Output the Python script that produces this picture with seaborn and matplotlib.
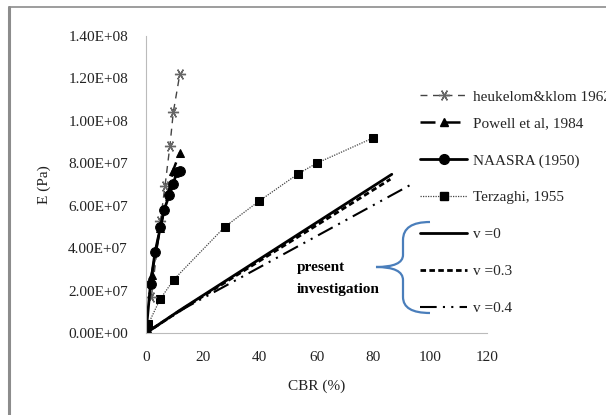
import numpy as np
import pandas as pd
import matplotlib
matplotlib.use("Agg")
import matplotlib.pyplot as plt
from matplotlib.path import Path
from matplotlib.patches import PathPatch
from matplotlib.lines import Line2D
import seaborn as sns

# ---- data ----
heuk_cbr = [1.9, 5.1, 6.7, 8.4, 9.6, 11.9]
heuk_e = [1.7e7, 5.3e7, 6.95e7, 8.8e7, 1.04e8, 1.22e8]

powell_cbr = [2.0, 5.0, 8.0, 9.5, 11.9]
powell_e = [2.75e7, 4.96e7, 6.67e7, 7.65e7, 8.5e7]

naasra_cbr = [0.0, 1.6, 3.2, 5.1, 6.3, 8.2, 9.6, 10.8, 11.9]
naasra_e = [0.0, 2.33e7, 3.82e7, 5.0e7, 5.78e7, 6.5e7, 7.0e7, 7.6e7, 7.65e7]

terz_cbr = [0.0, 0.8, 4.9, 9.8, 27.7, 39.6, 53.5, 60.0, 80.0]
terz_e = [0.0, 4.2e6, 1.58e7, 2.52e7, 5.0e7, 6.2e7, 7.5e7, 8.0e7, 9.2e7]

v0_cbr = [0.0, 12.0, 86.5]
v0_e = [0.0, 1.08e7, 7.48e7]
v03_cbr = [0.0, 12.0, 86.0]
v03_e = [0.0, 1.06e7, 7.25e7]
v04_cbr = [0.0, 14.0, 94.0]
v04_e = [0.0, 1.2e7, 7.05e7]

labels = ["heukelom&klom 1962", "Powell et al, 1984", "NAASRA (1950)",
          "Terzaghi, 1955", "v =0", "v =0.3", "v =0.4"]
x_ticks = [0, 20, 40, 60, 80, 100, 120]
y_ticks = [0, 2e7, 4e7, 6e7, 8e7, 1e8, 1.2e8, 1.4e8]

# ---- style ----
sns.set_style("white")
plt.rcParams["font.family"] = ["Liberation Serif", "DejaVu Serif"]
FS = 11

W, H = 606, 415
fig = plt.figure(figsize=(W / 100, H / 100), dpi=100)
ax = fig.add_axes([146 / W, 1 - 333 / H, (487 - 146) / W, (333 - 36) / H])

def draw(xs, ys, **kw):
    df = pd.DataFrame({"x": xs, "y": ys})
    sns.lineplot(data=df, x="x", y="y", ax=ax, sort=False, estimator=None, **kw)

STY = {
    "v0": dict(color="black", linewidth=2.0, linestyle="-"),
    "v03": dict(color="black", linewidth=2.0, linestyle=(0, (2.0, 1.2))),
    "v04": dict(color="black", linewidth=1.5, linestyle=(0, (8, 3, 1, 3, 1, 3))),
    "terz": dict(color="#444444", linewidth=0.9, linestyle=(0, (1, 1)),
                 marker="s", markersize=6, markerfacecolor="black", markeredgecolor="black"),
    "heuk": dict(color="#444444", linewidth=1.0, linestyle=(0, (5, 4)),
                 marker=(6, 2, 90), markersize=8, markeredgecolor="#666666",
                 markeredgewidth=1.0),
    "powell": dict(color="black", linewidth=1.8, linestyle=(0, (6, 4)),
                   marker="^", markersize=6, markerfacecolor="black", markeredgecolor="black"),
    "naasra": dict(color="black", linewidth=2.0, linestyle="-",
                   marker="o", markersize=7, markerfacecolor="black", markeredgecolor="black"),
}

draw(v0_cbr, v0_e, **STY["v0"])
draw(v03_cbr, v03_e, **STY["v03"])
draw(v04_cbr, v04_e, **STY["v04"])
draw(terz_cbr, terz_e, **STY["terz"])
draw(heuk_cbr, heuk_e, **STY["heuk"])
draw(powell_cbr, powell_e, **STY["powell"])
draw(naasra_cbr, naasra_e, **STY["naasra"])

ax.set_xlim(0, 120)
ax.set_ylim(0, 1.4e8)
ax.set_xticks(x_ticks)
ax.set_yticks(y_ticks)
ax.set_xticklabels([str(t) for t in x_ticks])
ax.set_yticklabels([f"{t:.2E}" for t in y_ticks])
ax.tick_params(axis="both", labelsize=FS, colors="#999999", labelcolor="#222222",
               direction="out", length=4, width=0.8)
ax.tick_params(axis="y", pad=9)
ax.tick_params(axis="x", pad=9)
for s in ["top", "right"]:
    ax.spines[s].set_visible(False)
for s in ["left", "bottom"]:
    ax.spines[s].set_color("#BBBBBB")
    ax.spines[s].set_linewidth(0.8)
ax.set_xlabel("CBR (%)", fontsize=FS, color="#222222", labelpad=11)
ax.set_ylabel("")
fig.text(44 / W, 1 - 185 / H, "E (Pa)", rotation=90, fontsize=FS, color="#222222",
         ha="center", va="center")
ax.grid(False)

# legend (first entry sits a little apart from the evenly spaced others)
def mk(key):
    kw = dict(STY[key])
    return Line2D([], [], color=kw.pop("color"), lw=kw.pop("linewidth"),
                  ls=kw.pop("linestyle"), **kw)

handles = [mk(k) for k in ["heuk", "powell", "naasra", "terz", "v0", "v03", "v04"]]
leg_kw = dict(frameon=False, fontsize=FS, handlelength=3.1, handletextpad=0.4,
              borderpad=0, borderaxespad=0)
leg1 = fig.legend(handles[:1], labels[:1], loc="center left",
                  bbox_to_anchor=(420 / W, 1 - 97 / H), **leg_kw)
leg2 = fig.legend(handles[1:], labels[1:], loc="center left",
                  bbox_to_anchor=(420 / W, 1 - 216 / H), labelspacing=1.52, **leg_kw)

# present investigation text and brace
fig.text(297 / W, 1 - 268 / H, "present", fontsize=11, fontweight="bold",
         ha="left", va="center", color="black")
fig.text(297 / W, 1 - 289 / H, "investigation", fontsize=11, fontweight="bold",
         ha="left", va="center", color="black")

def fp(x, y):
    return (x / W, 1 - y / H)

verts = [fp(430, 222), fp(403, 222), fp(403, 240), fp(403, 255), fp(403, 267), fp(376, 267),
         fp(403, 267), fp(403, 280), fp(403, 297), fp(403, 313), fp(430, 313)]
codes = [Path.MOVETO, Path.CURVE3, Path.CURVE3, Path.LINETO, Path.CURVE3, Path.CURVE3,
         Path.CURVE3, Path.CURVE3, Path.LINETO, Path.CURVE3, Path.CURVE3]
fig.patches.append(PathPatch(Path(verts, codes), transform=fig.transFigure,
                             facecolor="none", edgecolor="#4A7EBB", lw=1.6))

# outer chart-area border (top and left visible)
fig.add_artist(Line2D([9 / W, 1.0], [1 - 7 / H, 1 - 7 / H], transform=fig.transFigure,
                      color="#8C8C8C", lw=1.2))
fig.add_artist(Line2D([9 / W, 9 / W], [0.0, 1 - 7 / H], transform=fig.transFigure,
                      color="#8C8C8C", lw=2.2))

fig.savefig("out.png", dpi=100)
